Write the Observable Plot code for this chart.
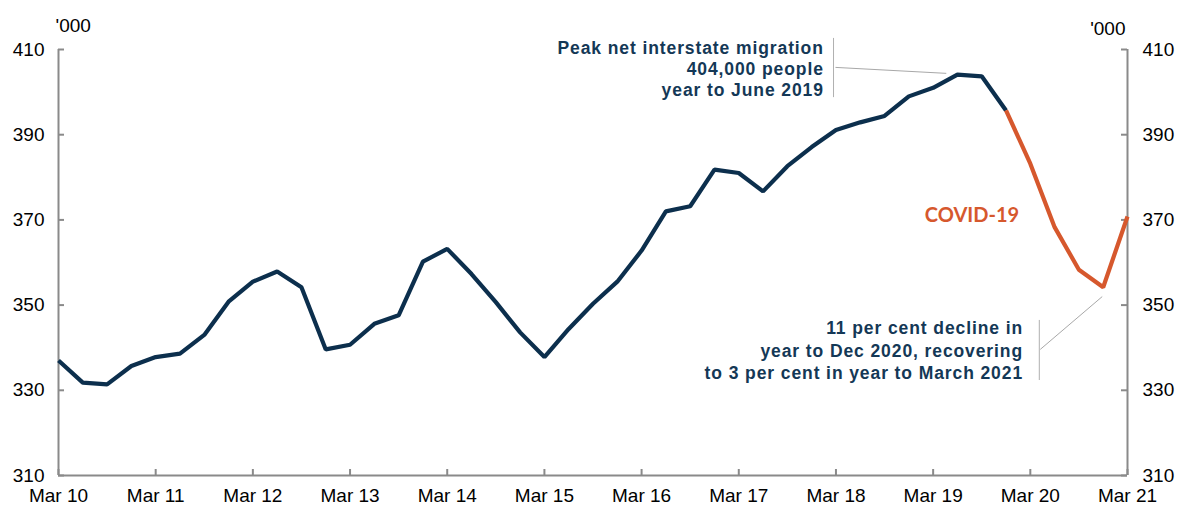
<!DOCTYPE html>
<html>
<head>
<meta charset="utf-8">
<script src="https://cdn.jsdelivr.net/npm/d3@7"></script>
<script src="https://cdn.jsdelivr.net/npm/@observablehq/plot@0.6"></script>
<style>
  html, body { margin: 0; padding: 0; background: #fff; }
</style>
</head>
<body>
<div id="chart"></div>
<script>
// Quarterly net interstate migration ('000), Mar 2010 .. Mar 2021
const startYear = 10;
const quarterMonths = ["Mar", "Jun", "Sep", "Dec"];
const values = [
  337.0, 331.8, 331.4, 335.7,
  337.8, 338.6, 343.0, 350.8,
  355.5, 357.9, 354.2, 339.6,
  340.7, 345.6, 347.6, 360.2,
  363.2, 357.3, 350.7, 343.6,
  337.8, 344.4, 350.3, 355.5,
  362.8, 372.0, 373.2, 381.8,
  381.0, 376.7, 382.6, 387.1,
  391.1, 392.9, 394.4, 399.0,
  401.0, 404.1, 403.7, 395.7,
  383.2, 368.3, 358.3, 354.2,
  370.8
];
const covidStart = 39; // Dec 19: COVID-19 segment begins
const yTicks = [310, 330, 350, 370, 390, 410];
const xTickLabels = ["Mar 10","Mar 11","Mar 12","Mar 13","Mar 14","Mar 15","Mar 16","Mar 17","Mar 18","Mar 19","Mar 20","Mar 21"];
const xTicks = xTickLabels.map((_, i) => i * 4);

// Annotations (data units: x = quarter index, y = '000)
const peakNote = [{x: 31.5, y: 405.6, text: "Peak net interstate migration\n404,000 people\nyear to June 2019"}];
const peakBar = [{x: 31.9, y1: 412.6, y2: 398.7}];
const peakLeader = [{x1: 31.98, y1: 405.8, x2: 36.54, y2: 404.4}];
const dropNote = [{x: 39.7, y: 339.6, text: "11 per cent decline in\nyear to Dec 2020, recovering\nto 3 per cent in year to March 2021"}];
const dropBar = [{x: 40.37, y1: 346.4, y2: 332.3}];
const dropLeader = [{x1: 40.41, y1: 339.6, x2: 42.96, y2: 352.0}];
const covidLabel = [{x: 37.6, y: 371.0, text: "COVID-19"}];

const data = values.map((v, i) => ({
  i, v,
  label: quarterMonths[i % 4] + " " + (startYear + Math.floor(i / 4))
}));
const pre = data.filter(d => d.i <= covidStart);
const post = data.filter(d => d.i >= covidStart);

const W = 1181, H = 506;
const mL = 58, mR = 54, mT = 49, mB = 31;
const plotW = W - mL - mR, plotH = H - mT - mB;
const axisColor = "#8a8a8a";
const navy = "#0c2f4d";
const orange = "#d6582d";
const annColor = "#143856";
const FS = 19;

const chart = Plot.plot({
  width: W, height: H,
  marginLeft: mL, marginRight: mR, marginTop: mT, marginBottom: mB,
  style: {fontFamily: "'Liberation Sans', Arial, sans-serif", fontSize: FS + "px", color: "#000", background: "#fff"},
  x: {domain: [0, 44]},
  y: {domain: [310, 410]},
  marks: [
    Plot.axisY(yTicks, {anchor: "left", tickSize: 0, tickPadding: 14, label: null, fontSize: FS}),
    Plot.axisY(yTicks, {anchor: "right", tickSize: 0, tickPadding: 15, label: null, fontSize: FS}),
    Plot.axisX(xTicks, {anchor: "bottom", tickSize: 0, tickPadding: 13, label: null, fontSize: FS,
      tickFormat: (d) => xTickLabels[d / 4]}),
    // inward ticks
    Plot.tickY(yTicks, {y: d => d, insetRight: plotW - 6, stroke: axisColor, strokeWidth: 2}),
    Plot.tickY(yTicks, {y: d => d, insetLeft: plotW - 6, stroke: axisColor, strokeWidth: 2}),
    Plot.tickX(xTicks, {x: d => d, insetTop: plotH - 6, stroke: axisColor, strokeWidth: 2}),
    // axis lines
    Plot.ruleX([0, 44], {stroke: axisColor, strokeWidth: 2}),
    Plot.ruleY([310], {stroke: axisColor, strokeWidth: 2}),
    // units
    Plot.text(["'000"], {frameAnchor: "top-left", textAnchor: "start", dx: -3, dy: -31, fontSize: FS}),
    Plot.text(["'000"], {frameAnchor: "top-right", textAnchor: "end", dx: -2, dy: -28, fontSize: FS}),
    // series
    Plot.line(pre, {x: "i", y: "v", stroke: navy, strokeWidth: 4.2, strokeLinejoin: "miter", strokeLinecap: "butt"}),
    Plot.line(post, {x: "i", y: "v", stroke: orange, strokeWidth: 4.2, strokeLinejoin: "miter", strokeLinecap: "butt"}),
    // annotations
    Plot.ruleX(peakBar, {x: "x", y1: "y1", y2: "y2", stroke: "#b0b0b0", strokeWidth: 1}),
    Plot.link(peakLeader, {x1: "x1", y1: "y1", x2: "x2", y2: "y2", stroke: "#a8a8a8", strokeWidth: 1}),
    Plot.ruleX(dropBar, {x: "x", y1: "y1", y2: "y2", stroke: "#b0b0b0", strokeWidth: 1}),
    Plot.link(dropLeader, {x1: "x1", y1: "y1", x2: "x2", y2: "y2", stroke: "#a8a8a8", strokeWidth: 1}),
    Plot.text(peakNote, {x: "x", y: "y", text: "text", textAnchor: "end", lineAnchor: "middle", lineHeight: 1.2,
      fontSize: 17.5, fontWeight: "bold", fill: annColor}),
    Plot.text(dropNote, {x: "x", y: "y", text: "text", textAnchor: "end", lineAnchor: "middle", lineHeight: 1.28,
      fontSize: 17.5, fontWeight: "bold", fill: annColor}),
    Plot.text(covidLabel, {x: "x", y: "y", text: "text", textAnchor: "middle", fontSize: 20, fontWeight: "bold",
      fontFamily: "Lato, 'Open Sans', sans-serif", fill: orange})
  ]
});
// widen letter spacing of the navy annotation blocks
chart.querySelectorAll("g").forEach(g => {
  if ((g.getAttribute("fill") || "").toLowerCase() === annColor) {
    g.style.letterSpacing = "0.9px";
  }
});
document.getElementById("chart").appendChild(chart);
</script>
</body>
</html>
